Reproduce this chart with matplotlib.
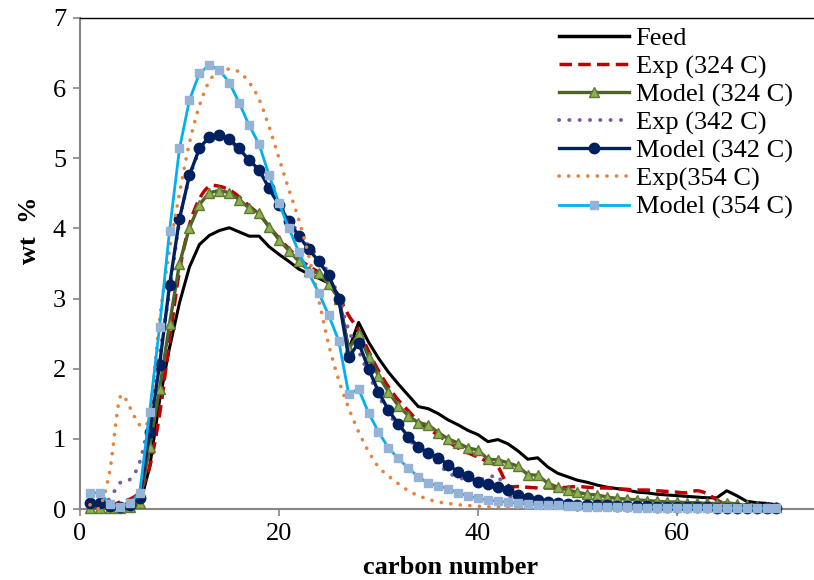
import numpy as np
import matplotlib
matplotlib.use("Agg")
import matplotlib.pyplot as plt
from matplotlib.path import Path
from matplotlib.patches import PathPatch
from matplotlib.lines import Line2D

plt.rcParams['font.family'] = ['Liberation Serif', 'DejaVu Serif']

carbon = list(range(1, 71))

feed = [0.04, 0.03, 0.02, 0.02, 0.02, 0.05, 0.60, 1.55, 2.30, 2.94,
        3.45, 3.77, 3.90, 3.97, 4.01, 3.95, 3.89, 3.89, 3.74, 3.63,
        3.53, 3.42, 3.35, 3.29, 3.22, 3.05, 2.27, 2.66, 2.38, 2.15,
        1.95, 1.78, 1.62, 1.46, 1.43, 1.36, 1.27, 1.20, 1.12, 1.06,
        0.96, 0.99, 0.93, 0.83, 0.71, 0.73, 0.60, 0.51, 0.46, 0.41,
        0.38, 0.34, 0.31, 0.29, 0.27, 0.24, 0.23, 0.21, 0.20, 0.19,
        0.18, 0.17, 0.16, 0.16, 0.26, 0.19, 0.11, 0.09, 0.08, 0.06]

exp_324 = [0.02, 0.02, 0.03, 0.10, 0.14, 0.25, 0.60, 1.35, 2.40, 3.40,
           4.05, 4.42, 4.60, 4.60, 4.55, 4.45, 4.32, 4.20, 4.03, 3.86,
           3.71, 3.57, 3.46, 3.37, 3.22, 3.02, 2.76, 2.55, 2.25, 1.97,
           1.74, 1.55, 1.40, 1.25, 1.15, 1.05, 0.96, 0.87, 0.80, 0.74,
           0.67, 0.60, 0.34, 0.32, 0.31, 0.30, 0.30, 0.30, 0.31, 0.32,
           0.31, 0.30, 0.30, 0.29, 0.28, 0.27, 0.27, 0.26, 0.25, 0.24,
           0.23, 0.26, 0.22, 0.13, 0.06, 0.04, 0.03, 0.03, 0.03, 0.02]

model_324 = [0.02, 0.02, 0.01, 0.01, 0.03, 0.09, 0.89, 1.71, 2.64, 3.50,
             4.01, 4.34, 4.51, 4.54, 4.51, 4.41, 4.29, 4.22, 4.02, 3.84,
             3.68, 3.53, 3.40, 3.36, 3.21, 3.00, 2.28, 2.50, 2.17, 1.90,
             1.67, 1.47, 1.33, 1.23, 1.20, 1.09, 1.00, 0.94, 0.87, 0.84,
             0.71, 0.70, 0.66, 0.61, 0.49, 0.48, 0.37, 0.31, 0.27, 0.24,
             0.21, 0.20, 0.17, 0.15, 0.14, 0.13, 0.12, 0.11, 0.10, 0.10,
             0.09, 0.09, 0.08, 0.08, 0.09, 0.07, 0.05, 0.04, 0.03, 0.03]

exp_342 = [0.05, 0.05, 0.15, 0.37, 0.42, 0.67, 1.30, 2.20, 3.10, 4.10,
           4.72, 5.10, 5.28, 5.30, 5.25, 5.12, 4.96, 4.82, 4.58, 4.35,
           4.13, 3.93, 3.75, 3.58, 3.35, 3.02, 2.55, 2.25, 1.93, 1.62,
           1.37, 1.17, 1.00, 0.86, 0.75, 0.64, 0.52, 0.45, 0.42, 0.42,
           0.44, 0.47, 0.20, 0.17, 0.14, 0.12, 0.10, 0.08, 0.07, 0.06,
           0.05, 0.05, 0.05, 0.04, 0.04, 0.04, 0.04, 0.03, 0.03, 0.03,
           0.03, 0.03, 0.03, 0.02, 0.02, 0.02, 0.02, 0.02, 0.02, 0.02]

model_342 = [0.08, 0.08, 0.04, 0.03, 0.06, 0.16, 1.10, 2.06, 3.19, 4.14,
             4.76, 5.14, 5.31, 5.33, 5.28, 5.14, 4.97, 4.84, 4.57, 4.33,
             4.10, 3.89, 3.70, 3.53, 3.33, 3.00, 2.16, 2.37, 2.00, 1.67,
             1.41, 1.21, 1.03, 0.89, 0.80, 0.73, 0.63, 0.53, 0.47, 0.39,
             0.36, 0.31, 0.27, 0.20, 0.16, 0.13, 0.10, 0.08, 0.07, 0.06,
             0.05, 0.05, 0.05, 0.04, 0.04, 0.04, 0.04, 0.03, 0.03, 0.03,
             0.03, 0.03, 0.03, 0.02, 0.02, 0.02, 0.02, 0.02, 0.02, 0.02]

exp_354 = [0.06, 0.03, 0.55, 1.58, 1.45, 1.20, 1.35, 2.70, 3.70, 4.50,
           5.22, 5.75, 6.10, 6.25, 6.27, 6.23, 6.08, 5.84, 5.45, 5.00,
           4.55, 4.12, 3.60, 2.98, 2.34, 1.84, 1.44, 1.10, 0.82, 0.60,
           0.47, 0.36, 0.26, 0.19, 0.14, 0.10, 0.08, 0.06, 0.05, 0.04,
           0.03, 0.03, 0.02, 0.02, 0.02, 0.02, 0.02, 0.02, 0.02, 0.02,
           0.02, 0.02, 0.02, 0.02, 0.02, 0.02, 0.02, 0.02, 0.02, 0.02,
           0.01, 0.01, 0.01, 0.01, 0.01, 0.01, 0.01, 0.01, 0.01, 0.01]

model_354 = [0.23, 0.23, 0.07, 0.03, 0.08, 0.23, 1.39, 2.60, 3.97, 5.14,
             5.83, 6.21, 6.33, 6.26, 6.08, 5.79, 5.47, 5.20, 4.76, 4.36,
             4.00, 3.66, 3.36, 3.08, 2.76, 2.40, 1.64, 1.71, 1.37, 1.10,
             0.87, 0.72, 0.58, 0.46, 0.37, 0.33, 0.29, 0.23, 0.19, 0.15,
             0.13, 0.11, 0.10, 0.08, 0.07, 0.06, 0.05, 0.05, 0.04, 0.04,
             0.03, 0.03, 0.03, 0.03, 0.03, 0.02, 0.02, 0.02, 0.02, 0.02,
             0.02, 0.02, 0.02, 0.01, 0.01, 0.01, 0.01, 0.01, 0.01, 0.01]

labels = ["Feed", "Exp (324 C)", "Model (324 C)", "Exp (342 C)",
          "Model (342 C)", "Exp(354 C)", "Model (354 C)"]

FS = 19

W, H = 814, 580
fig = plt.figure(figsize=(W / 100, H / 100), dpi=100)
ax = fig.add_axes([80 / W, 1 - 509 / H, (W - 80) / W, (509 - 18) / H])


def smooth_path(x, y):
    pts = np.column_stack([np.asarray(x, float), np.asarray(y, float)])
    n = len(pts)
    verts = [pts[0]]
    codes = [Path.MOVETO]
    for i in range(n - 1):
        p0 = pts[i - 1] if i > 0 else pts[i]
        p1 = pts[i]
        p2 = pts[i + 1]
        p3 = pts[i + 2] if i + 2 < n else pts[i + 1]
        c1 = p1 + (p2 - p0) / 6.0
        c2 = p2 - (p3 - p1) / 6.0
        verts += [c1, c2, p2]
        codes += [Path.CURVE4] * 3
    return Path(verts, codes)


def smooth_line(y, color, lw, ls, z):
    patch = PathPatch(smooth_path(carbon, y), fill=False, edgecolor=color,
                      linewidth=lw, linestyle=ls, zorder=z,
                      transform=ax.transData, clip_on=False)
    patch.set_capstyle('round' if ls[1][0] < 1 else 'butt')
    ax.add_patch(patch)


dash_red = (0, (3.6, 1.8))
dot_style = (0, (0.05, 2.6))

handles = []
# Feed
ax.plot(carbon, feed, color='black', lw=2.2, zorder=3, clip_on=False,
        solid_joinstyle='round')
handles.append(Line2D([], [], color='black', lw=2.5))
# Exp 324
smooth_line(exp_324, '#C00000', 2.5, dash_red, 4)
handles.append(Line2D([], [], color='#C00000', lw=2.5, linestyle=dash_red))
# Model 324
ax.plot(carbon, model_324, color='#4F6228', lw=2.4, marker='^', ms=7,
        mfc='#8DB050', mec='#5E7A32', mew=1.0, zorder=5, clip_on=False)
handles.append(Line2D([], [], color='#4F6228', lw=2.4, marker='^', ms=7,
                      mfc='#8DB050', mec='#5E7A32', mew=1.0))
# Exp 342
smooth_line(exp_342, '#7A5BA0', 2.8, dot_style, 6)
handles.append(Line2D([], [], color='#7A5BA0', lw=2.8, linestyle=dot_style,
                      dash_capstyle='round'))
# Model 342
ax.plot(carbon, model_342, color='#002060', lw=2.4, marker='o', ms=7.5,
        mfc='#002060', mec='#002060', zorder=7, clip_on=False)
handles.append(Line2D([], [], color='#002060', lw=2.4, marker='o', ms=7.5,
                      mfc='#002060', mec='#002060'))
# Exp 354
smooth_line(exp_354, '#E8823A', 2.6, dot_style, 8)
handles.append(Line2D([], [], color='#E8823A', lw=2.6, linestyle=dot_style,
                      dash_capstyle='round'))
# Model 354
ax.plot(carbon, model_354, color='#00B0F0', lw=2.0, marker='s', ms=6,
        mfc='#95B3D7', mec='#95B3D7', zorder=9, clip_on=False)
handles.append(Line2D([], [], color='#00B0F0', lw=2.0, marker='s', ms=6,
                      mfc='#95B3D7', mec='#95B3D7'))

ax.set_xlim(0, (W - 80) / 9.95)
ax.set_ylim(0, 7)
ax.set_xticks([0, 20, 40, 60])
ax.set_yticks(range(0, 8))
ax.tick_params(axis='both', labelsize=FS, direction='out', length=5,
               width=1.2, color='#868686')
ax.tick_params(axis='y', pad=5)
ax.tick_params(axis='x', pad=5)

for s in ['left', 'bottom']:
    ax.spines[s].set_color('#868686')
    ax.spines[s].set_linewidth(1.5)
ax.spines['top'].set_color('black')
ax.spines['top'].set_linewidth(1.0)
ax.spines['right'].set_visible(False)

fig.text(451 / W, 1 - 568 / H, 'carbon number', ha='center', va='center',
         fontsize=FS, fontweight='bold')
fig.text(30 / W, 1 - 230 / H, 'wt  %', ha='center', va='center',
         fontsize=FS, fontweight='bold', rotation=90)

leg = ax.legend(handles, labels, loc='upper left',
                bbox_to_anchor=(559 / W, 1 - 27 / H),
                bbox_transform=fig.transFigure, frameon=False,
                fontsize=FS, handlelength=2.65, handletextpad=0.25,
                labelspacing=0.16, borderpad=0, borderaxespad=0,
                numpoints=1)
leg.set_zorder(20)

fig.savefig('out.png', dpi=100)
